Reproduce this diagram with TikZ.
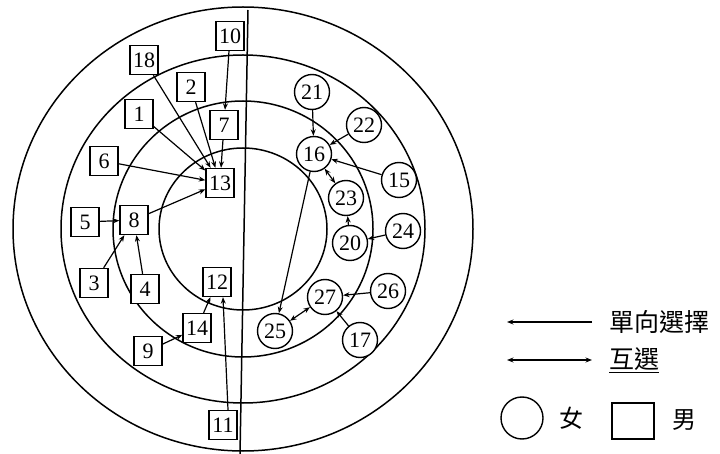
\documentclass[tikz,border=0pt]{standalone}
\usepackage{fontspec}
\newfontfamily\cjk{Noto Sans CJK TC}
\newfontfamily\numfont{Liberation Serif}
\usetikzlibrary{arrows.meta}

\tikzset{
  ring/.style={line width=1.5pt},
  boy/.style={draw,fill=white,line width=1.4pt,minimum width=28pt,minimum height=29pt,
    inner sep=0pt,font=\numfont\fontsize{22}{22}\selectfont},
  girl/.style={draw,fill=white,circle,line width=1.4pt,minimum size=35pt,
    inner sep=0pt,font=\numfont\fontsize{22}{22}\selectfont},
  pick/.style={->,line width=1.2pt},
  mutual/.style={<->,line width=1.2pt},
  legtext/.style={anchor=west,inner sep=0pt,font=\cjk\fontsize{25}{25}\selectfont},
}

\begin{document}
\begin{tikzpicture}[x=1pt,y=-1pt,>={Stealth[length=6.5pt,width=5pt]}]
    \useasboundingbox (0,0) rectangle (720,454);
    % rings
    \draw[ring] (243,229) ellipse [x radius=84pt, y radius=81pt];
    \draw[ring] (243,229) ellipse [x radius=130pt, y radius=128pt];
    \draw[ring] (243,229) ellipse [x radius=182pt, y radius=174pt];
    \draw[ring] (243,229) ellipse [x radius=230pt, y radius=222pt];
    \draw[ring] (248,10) -- (240,454);
    % boys
    \node[boy] (b10) at (230,36) {10};
    \node[boy] (b18) at (144,60) {18};
    \node[boy] (b2) at (191,87) {2};
    \node[boy] (b1) at (139,114) {1};
    \node[boy] (b7) at (224,125) {7};
    \node[boy] (b6) at (104,161) {6};
    \node[boy] (b13) at (220,183) {13};
    \node[boy] (b5) at (85,222) {5};
    \node[boy] (b8) at (134,220) {8};
    \node[boy] (b3) at (94,283) {3};
    \node[boy] (b4) at (145,289) {4};
    \node[boy] (b12) at (217,282) {12};
    \node[boy] (b14) at (197,328) {14};
    \node[boy] (b9) at (148,351) {9};
    \node[boy] (b11) at (223,425) {11};
    % girls
    \node[girl] (g21) at (312,92) {21};
    \node[girl] (g22) at (364,125) {22};
    \node[girl] (g16) at (314,154) {16};
    \node[girl] (g15) at (399,180) {15};
    \node[girl] (g23) at (346,198) {23};
    \node[girl] (g24) at (403,231) {24};
    \node[girl] (g20) at (350,243) {20};
    \node[girl] (g26) at (388,291) {26};
    \node[girl] (g27) at (325,297) {27};
    \node[girl] (g25) at (275,331) {25};
    \node[girl] (g17) at (360,340) {17};
    % choices among boys
    \draw[pick] (b10) -- (b7);
    \draw[pick] (b7) -- (b13);
    \draw[pick] (b18) -- (b13);
    \draw[pick] (b2) -- (b13);
    \draw[pick] (b1) -- (b13);
    \draw[pick] (b6) -- (b13);
    \draw[pick] (b8) -- (b13);
    \draw[pick] (b5) -- (b8);
    \draw[pick] (b3) -- (b8);
    \draw[pick] (b4) -- (b8);
    \draw[pick] (b9) -- (b14);
    \draw[pick] (b14) -- (b12);
    \draw[pick] ([xshift=5pt]b11.north) -- ([xshift=6pt]b12.south);
    % choices among girls
    \draw[pick] (g21) -- (g16);
    \draw[pick] (g22) -- (g16);
    \draw[pick] (g15) -- (g16);
    \draw[mutual] (g16) -- (g23);
    \draw[pick] (g20) -- (g23);
    \draw[pick] (g24) -- (g20);
    \draw[pick] (g16) -- (g25);
    \draw[pick] (g26) -- (g27);
    \draw[pick] (g17) -- (g27);
    \draw[mutual] (g27) -- (g25);
    % legend
    \coordinate (oneA) at (592,322);
    \coordinate (oneB) at (507,322);
    \draw[pick] (oneA) -- (oneB);
    \node[legtext] (oneT) at (609,322) {單向選擇};
    \coordinate (twoA) at (507,360);
    \coordinate (twoB) at (592,360);
    \draw[mutual] (twoA) -- (twoB);
    \node[legtext] (twoT) at (609,360) {\underline{互選}};
    \node[girl,minimum size=42pt] (legG) at (522,418) {};
    \node[legtext,font=\cjk\fontsize{24}{24}\selectfont] (legGT) at (559,418) {女};
    \node[boy,minimum width=42pt,minimum height=36pt] (legB) at (633,421) {};
    \node[legtext,font=\cjk\fontsize{24}{24}\selectfont] (legBT) at (672,420) {男};
  \end{tikzpicture}
\end{document}
